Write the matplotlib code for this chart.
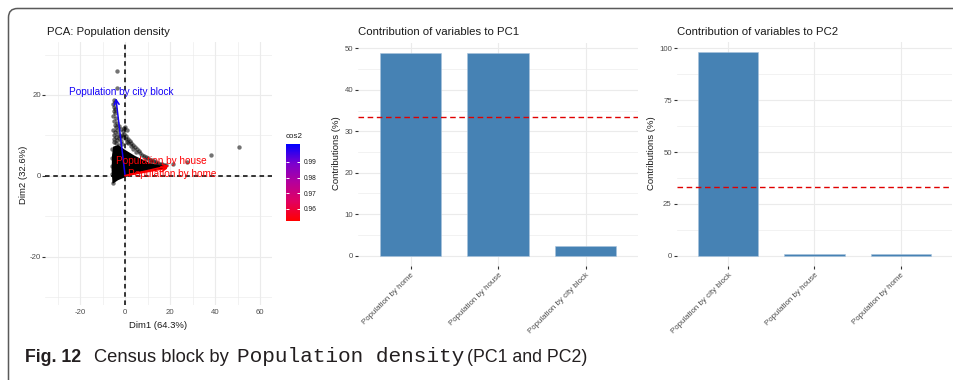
import numpy as np
import matplotlib
matplotlib.use('Agg')
import matplotlib.pyplot as plt
from matplotlib.colors import LinearSegmentedColormap, Normalize
from matplotlib.path import Path
from matplotlib.patches import PathPatch
from matplotlib.cm import ScalarMappable
import matplotlib.transforms as mtrans

plt.rcParams['font.family'] = ['Liberation Sans', 'DejaVu Sans']
plt.rcParams['axes.unicode_minus'] = False

# ---------------- data ----------------
var_names = ["Population by city block", "Population by house", "Population by home"]
var_dim1 = [-4.1, 19.6, 19.0]
var_dim2 = [19.2, 2.5, 1.9]
var_cos2 = [0.9995, 0.9528, 0.9522]
label_dim1 = [-1.8, 16.0, 21.0]
label_dim2 = [20.6, 3.7, 0.4]

# dense core of individuals (solid region)
core_x = [-5.6, -6.0, -5.8, -5.3, -3.1, 0.0, 4.4, 11.1, 18.5, 18.5, 6.7, 0.8, -3.1, -5.2]
core_y = [-1.9, 1.4, 5.1, 7.2, 7.6, 6.4, 4.9, 3.1, 2.2, 1.8, 0.9, -0.2, -1.1, -1.9]

# individual points
ind_x = [-5.0, -4.6, -5.2, -4.8, -4.3, -5.1, -4.6, -5.3, -4.2, -4.9, -3.8, -4.7, -4.1, -5.2,
         -3.5, -4.5, -3.0, -4.9, -3.9, -2.6, -4.8, -3.4, -2.0, -5.1, -4.0, -1.4, -2.9,
         -2.5, -1.8, -1.0, -0.3, 0.5, 1.2, 2.0, 2.8, 3.5, 4.3, 5.2, 6.0, -1.2, 0.2, 1.5,
         2.5, -2.2, -0.8, 0.8, 3.6, 4.8, 0.1, 1.0, -0.4,
         6.8, 7.6, 8.5, 9.3, 10.2, 11.0, 11.9, 12.8, 13.6, 14.5, 15.4, 16.3, 17.2, 18.0,
         9.0, 11.5, 13.9, 16.0,
         21.2, 27.4, 38.1, 50.8, -3.4, -3.4,
         -5.5, -5.8, -6.0, -5.9, -5.6]
ind_y = [18.8, 18.3, 17.7, 17.1, 16.6, 16.1, 15.5, 14.8, 14.2, 13.6, 13.0, 12.5, 12.0, 11.4,
         11.2, 10.7, 10.4, 10.0, 9.6, 9.3, 9.0, 8.8, 8.5, 8.3, 8.0, 7.9, 7.7,
         12.3, 11.6, 11.0, 10.4, 9.8, 9.2, 8.6, 8.1, 7.5, 7.0, 6.5, 6.1, 10.2, 9.0, 8.0,
         7.3, 9.8, 9.5, 8.4, 6.6, 5.9, 12.0, 11.2, 11.9,
         5.6, 5.2, 4.9, 4.6, 4.3, 4.0, 3.8, 3.6, 3.4, 3.2, 3.0, 2.9, 2.7, 2.6,
         3.9, 3.3, 2.9, 2.4,
         2.8, 3.5, 5.1, 7.0, 26.0, 21.7,
         -1.8, 0.5, 2.5, 4.5, 6.5]

pc1_vars = ["Population by home", "Population by house", "Population by city block"]
pc1_contrib = [48.8, 48.8, 2.4]
pc2_vars = ["Population by city block", "Population by house", "Population by home"]
pc2_contrib = [98.1, 1.0, 0.9]

cos2_ticks = [0.96, 0.97, 0.98, 0.99]

# ---------------- figure ----------------
W, H = 954, 380
fig = plt.figure(figsize=(W / 100, H / 100), dpi=100)


def px_axes(l, t, r, b):
    return fig.add_axes([l / W, 1 - b / H, (r - l) / W, (b - t) / H])


def ftext(x, y, s, **kw):
    return fig.text(x / W, 1 - y / H, s, **kw)


GRID = '#EBEBEB'
TICKC = '#4D4D4D'


def style_axes(ax):
    for sp in ax.spines.values():
        sp.set_visible(False)
    ax.set_axisbelow(True)
    ax.grid(True, which='major', color=GRID, lw=0.8)
    ax.grid(True, which='minor', color=GRID, lw=0.45)
    ax.tick_params(which='minor', length=0)


# ---------- Panel 1: PCA biplot ----------
ax1 = px_axes(45, 42, 272, 305)
style_axes(ax1)
ax1.set_xlim(-35.6, 65.3)
ax1.set_ylim(-32.0, 33.1)
ax1.set_xticks([-20, 0, 20, 40, 60])
ax1.set_xticks([-30, -10, 10, 30, 50], minor=True)
ax1.set_yticks([-20, 0, 20])
ax1.set_yticks([-30, -10, 10, 30], minor=True)
ax1.tick_params(axis='x', length=0, labelsize=5.6, labelcolor=TICKC, pad=3)
ax1.tick_params(axis='y', length=2, width=0.8, color='#333333', labelsize=5.6,
                labelcolor=TICKC, pad=1)

ax1.fill(core_x, core_y, color='black', lw=0, zorder=2)
ax1.scatter(ind_x, ind_y, s=10, color='black', alpha=0.55, linewidths=0, zorder=2)
ax1.axhline(0, color='black', ls=(0, (3, 2.4)), lw=1.1, zorder=3)
ax1.axvline(0, color='black', ls=(0, (3, 2.4)), lw=1.1, zorder=3)

cmap = LinearSegmentedColormap.from_list(
    'cos2', [(0, '#FF0000'), (0.25, '#E2005F'), (0.5, '#B5009B'), (0.75, '#7A00CF'), (1, '#0000FF')])
norm = Normalize(vmin=min(var_cos2), vmax=max(var_cos2) + 0.002)

for name, x, y, c, lx, ly in zip(var_names, var_dim1, var_dim2, var_cos2, label_dim1, label_dim2):
    col = cmap(norm(c))
    ax1.annotate('', xy=(x, y), xytext=(0, 0),
                 arrowprops=dict(arrowstyle='->,head_length=0.35,head_width=0.18',
                                 color=col, lw=1.1, shrinkA=0, shrinkB=0), zorder=4)
    ax1.text(lx, ly, name, color=col, fontsize=7.2, ha='center', va='center', zorder=5)

ftext(47, 32.3, 'PCA: Population density', fontsize=8.2, ha='left', va='center', color='#1a1a1a')
ftext(158, 325, 'Dim1 (64.3%)', fontsize=6.8, ha='center', va='center', color='#1a1a1a')
ftext(24, 175, 'Dim2 (32.6%)', fontsize=6.8, ha='center', va='center', rotation=90, color='#1a1a1a')

# colorbar
cax = px_axes(286, 144, 300, 221)
cb = fig.colorbar(ScalarMappable(norm=norm, cmap=cmap), cax=cax)
cb.outline.set_visible(False)
cb.set_ticks(cos2_ticks)
cb.set_ticklabels([f'{t:.2f}' for t in cos2_ticks])
cax.yaxis.set_ticks_position('both')
cax.yaxis.set_label_position('right')
cax.tick_params(axis='y', direction='in', length=2.5, width=0.7, color='white',
                labelsize=4.8, labelcolor='#1a1a1a', pad=3, labelleft=False, labelright=True)
cax.tick_params(which='minor', length=0)
ftext(286, 137, 'cos2', fontsize=5.8, ha='left', va='center', color='#1a1a1a')


# ---------- Bar panels ----------
def bar_panel(l, t, r, b, names, vals, yticks, yminor, title, ylab_x):
    ax = px_axes(l, t, r, b)
    style_axes(ax)
    pos = np.arange(len(vals))
    ax.bar(pos, vals, width=0.7, color='#4682B4', edgecolor='#A9C3DC', lw=0.4, zorder=2)
    top = max(vals)
    ax.set_ylim(-0.05 * top, 1.05 * top)
    ax.set_xlim(-0.6, len(vals) - 0.4)
    ax.set_xticks(pos)
    ax.set_xticklabels(names, rotation=45, ha='right', va='top', rotation_mode='anchor')
    ax.set_yticks(yticks)
    ax.set_yticks(yminor, minor=True)
    ax.xaxis.grid(True, which='major', color=GRID, lw=0.8)
    ax.tick_params(axis='x', length=2, width=0.8, color='#333333', labelsize=5.7,
                   labelcolor=TICKC, pad=2)
    ax.tick_params(axis='y', length=2, width=0.8, color='#333333', labelsize=5.6,
                   labelcolor=TICKC, pad=1.5)
    ax.axhline(100 / len(vals), color='#E00000', ls=(0, (4, 2.6)), lw=1.0, zorder=3)
    ftext(l, 32.3, title, fontsize=8.2, ha='left', va='center', color='#1a1a1a')
    ftext(ylab_x, 153, 'Contributions (%)', fontsize=6.8, ha='center', va='center',
          rotation=90, color='#1a1a1a')
    return ax


bar_panel(358, 43.2, 638.3, 265.8, pc1_vars, pc1_contrib,
          [0, 10, 20, 30, 40, 50], [5, 15, 25, 35, 45],
          'Contribution of variables to PC1', 337)
bar_panel(676.6, 42.1, 952.4, 265.9, pc2_vars, pc2_contrib,
          [0, 25, 50, 75, 100], [12.5, 37.5, 62.5, 87.5],
          'Contribution of variables to PC2', 651.7)

# ---------- frame ----------
r = 9
x0, ytop = 8.5, H - 8.5
verts = [(x0, -5), (x0, ytop - r), (x0, ytop), (x0 + r, ytop), (W + 5, ytop)]
codes = [Path.MOVETO, Path.LINETO, Path.CURVE3, Path.CURVE3, Path.LINETO]
fig.add_artist(PathPatch(Path(verts, codes), transform=mtrans.IdentityTransform(),
                         fill=False, edgecolor='#5a5a5a', lw=1.1))

# ---------- caption ----------
cap_y = H - 361.7
fig.text(25 / W, cap_y / H, 'Fig. 12', fontsize=12.8, fontweight='bold', ha='left',
         va='baseline', color='#231F20')
fig.text(94 / W, cap_y / H, 'Census block by', fontsize=13.2, ha='left',
         va='baseline', color='#231F20')
fig.text(237 / W, cap_y / H, 'Population density', fontsize=15.2, ha='left',
         va='baseline', color='#231F20', family=['Liberation Mono', 'DejaVu Sans Mono'])
fig.text(467 / W, cap_y / H, '(PC1 and PC2)', fontsize=12.8, ha='left',
         va='baseline', color='#231F20')

fig.savefig('out.png', dpi=100, facecolor='white')
